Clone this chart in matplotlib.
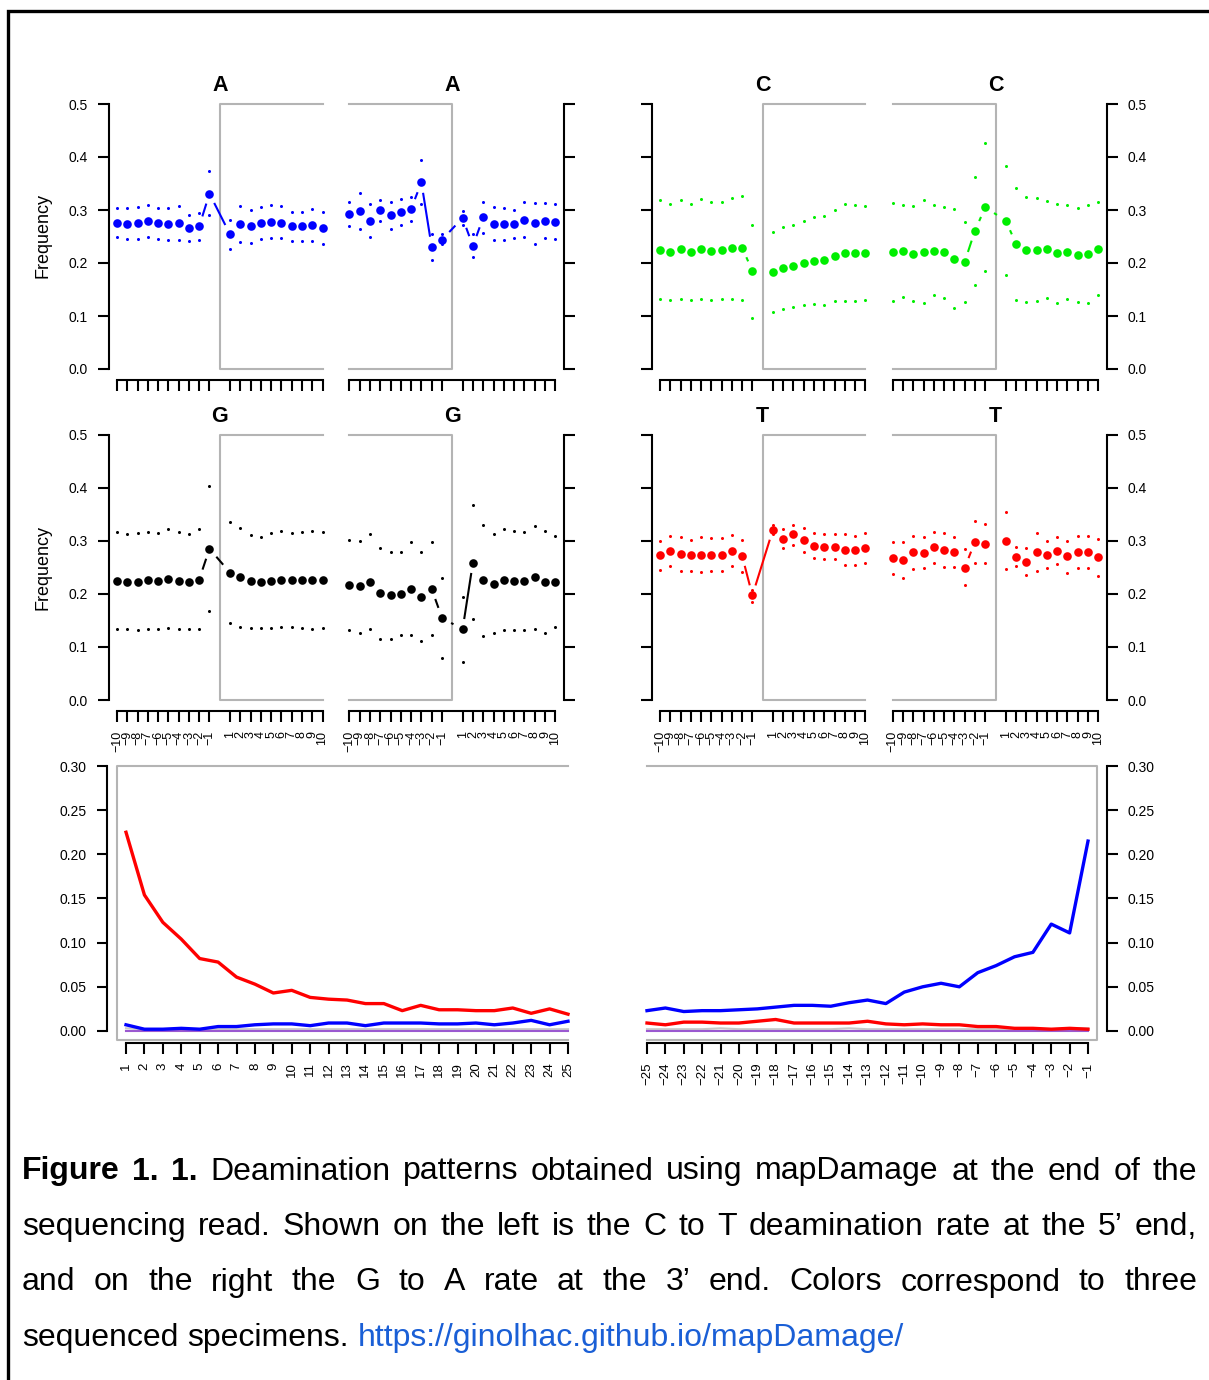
import numpy as np
import matplotlib
matplotlib.use('Agg')
import matplotlib.pyplot as plt
from matplotlib.lines import Line2D

W, H = 1209, 1380
plt.rcParams['font.family'] = ['Liberation Sans', 'DejaVu Sans']

# positions -10..-1, 1..10 (a gap is left between -1 and 1)
pos_labels = ['\u2212%d' % i for i in range(10, 0, -1)] + [str(i) for i in range(1, 11)]
pos_idx = list(range(10)) + list(range(11, 21))

# base composition, 5' side (left) and 3' side (right) of each base
A_left_mean = [0.276, 0.274, 0.275, 0.280, 0.275, 0.274, 0.276, 0.266, 0.269, 0.331,
               0.254, 0.273, 0.269, 0.275, 0.278, 0.276, 0.270, 0.270, 0.272, 0.266]
A_left_upper = [0.303, 0.303, 0.306, 0.309, 0.303, 0.303, 0.308, 0.291, 0.295, 0.373,
                0.281, 0.307, 0.300, 0.305, 0.310, 0.307, 0.297, 0.297, 0.302, 0.297]
A_left_lower = [0.249, 0.245, 0.245, 0.250, 0.245, 0.243, 0.243, 0.242, 0.243, 0.290,
                0.226, 0.239, 0.237, 0.246, 0.248, 0.248, 0.241, 0.242, 0.242, 0.236]
A_right_mean = [0.293, 0.298, 0.280, 0.300, 0.290, 0.296, 0.302, 0.352, 0.230, 0.244,
                0.285, 0.232, 0.286, 0.274, 0.273, 0.273, 0.281, 0.275, 0.280, 0.278]
A_right_upper = [0.316, 0.332, 0.311, 0.319, 0.315, 0.321, 0.324, 0.394, 0.254, 0.254,
                 0.298, 0.254, 0.316, 0.305, 0.303, 0.300, 0.315, 0.313, 0.314, 0.311]
A_right_lower = [0.270, 0.264, 0.249, 0.280, 0.264, 0.271, 0.279, 0.311, 0.205, 0.235,
                 0.272, 0.212, 0.256, 0.243, 0.243, 0.248, 0.249, 0.236, 0.247, 0.246]

C_left_mean = [0.225, 0.221, 0.226, 0.221, 0.226, 0.223, 0.224, 0.228, 0.229, 0.185,
               0.183, 0.190, 0.194, 0.200, 0.204, 0.205, 0.214, 0.219, 0.219, 0.219]
C_left_upper = [0.318, 0.311, 0.319, 0.312, 0.320, 0.315, 0.315, 0.323, 0.327, 0.271,
                0.259, 0.268, 0.271, 0.280, 0.286, 0.289, 0.300, 0.312, 0.309, 0.307]
C_left_lower = [0.133, 0.131, 0.133, 0.130, 0.133, 0.130, 0.133, 0.133, 0.131, 0.097,
                0.107, 0.113, 0.117, 0.121, 0.122, 0.120, 0.129, 0.128, 0.128, 0.130]
C_right_mean = [0.221, 0.223, 0.217, 0.221, 0.223, 0.220, 0.208, 0.202, 0.261, 0.305,
                0.280, 0.236, 0.225, 0.225, 0.226, 0.219, 0.221, 0.215, 0.217, 0.227]
C_right_upper = [0.313, 0.310, 0.308, 0.318, 0.309, 0.305, 0.302, 0.278, 0.363, 0.427,
                 0.383, 0.341, 0.325, 0.322, 0.317, 0.312, 0.310, 0.304, 0.310, 0.315]
C_right_lower = [0.128, 0.136, 0.128, 0.124, 0.139, 0.134, 0.116, 0.126, 0.159, 0.185,
                 0.177, 0.131, 0.127, 0.129, 0.134, 0.125, 0.132, 0.126, 0.125, 0.139]

G_left_mean = [0.224, 0.222, 0.222, 0.226, 0.224, 0.228, 0.225, 0.223, 0.227, 0.285,
               0.240, 0.231, 0.224, 0.222, 0.225, 0.227, 0.226, 0.226, 0.226, 0.226]
G_left_upper = [0.316, 0.312, 0.314, 0.317, 0.314, 0.322, 0.317, 0.313, 0.323, 0.403,
                0.336, 0.325, 0.311, 0.308, 0.314, 0.318, 0.315, 0.316, 0.318, 0.317]
G_left_lower = [0.133, 0.133, 0.131, 0.134, 0.134, 0.136, 0.133, 0.133, 0.133, 0.168,
                0.145, 0.137, 0.135, 0.135, 0.136, 0.137, 0.137, 0.135, 0.133, 0.136]
G_right_mean = [0.216, 0.214, 0.223, 0.201, 0.197, 0.200, 0.209, 0.195, 0.209, 0.155,
                0.133, 0.259, 0.226, 0.219, 0.226, 0.224, 0.224, 0.231, 0.223, 0.223]
G_right_upper = [0.302, 0.300, 0.313, 0.287, 0.278, 0.278, 0.297, 0.278, 0.297, 0.229,
                 0.195, 0.368, 0.330, 0.313, 0.322, 0.318, 0.317, 0.327, 0.318, 0.309]
G_right_lower = [0.131, 0.127, 0.133, 0.115, 0.115, 0.122, 0.123, 0.112, 0.122, 0.080,
                 0.072, 0.152, 0.121, 0.127, 0.131, 0.131, 0.132, 0.133, 0.127, 0.138]

T_left_mean = [0.273, 0.281, 0.275, 0.273, 0.274, 0.274, 0.273, 0.281, 0.272, 0.197,
               0.321, 0.304, 0.312, 0.301, 0.291, 0.289, 0.289, 0.283, 0.283, 0.287]
T_left_upper = [0.300, 0.310, 0.307, 0.302, 0.307, 0.305, 0.305, 0.311, 0.302, 0.207,
                0.329, 0.322, 0.330, 0.324, 0.315, 0.313, 0.313, 0.312, 0.310, 0.315]
T_left_lower = [0.245, 0.253, 0.244, 0.244, 0.242, 0.243, 0.243, 0.252, 0.242, 0.185,
                0.312, 0.287, 0.292, 0.278, 0.268, 0.266, 0.266, 0.255, 0.254, 0.258]
T_right_mean = [0.268, 0.263, 0.278, 0.277, 0.288, 0.283, 0.278, 0.249, 0.298, 0.294,
                0.300, 0.270, 0.261, 0.278, 0.274, 0.281, 0.271, 0.278, 0.278, 0.269]
T_right_upper = [0.298, 0.297, 0.310, 0.307, 0.317, 0.315, 0.307, 0.285, 0.338, 0.331,
                 0.354, 0.288, 0.287, 0.314, 0.299, 0.307, 0.300, 0.310, 0.309, 0.304]
T_right_lower = [0.238, 0.229, 0.246, 0.248, 0.259, 0.250, 0.250, 0.216, 0.259, 0.258,
                 0.246, 0.253, 0.236, 0.244, 0.249, 0.256, 0.240, 0.248, 0.248, 0.234]

# misincorporation frequencies along the read
pos5 = list(range(1, 26))
pos3 = list(range(-25, 0))
ct_5p = [0.225, 0.154, 0.123, 0.104, 0.082, 0.078, 0.061, 0.053, 0.043, 0.046, 0.038, 0.036, 0.035,
         0.031, 0.031, 0.023, 0.029, 0.024, 0.024, 0.023, 0.023, 0.026, 0.020, 0.025, 0.019]
ga_5p = [0.007, 0.002, 0.002, 0.003, 0.002, 0.005, 0.005, 0.007, 0.008, 0.008, 0.006, 0.009, 0.009,
         0.006, 0.009, 0.009, 0.009, 0.008, 0.008, 0.009, 0.007, 0.009, 0.012, 0.007, 0.011]
other_5p = [0.003, 0.002, 0.002, 0.002, 0.002, 0.002, 0.002, 0.002, 0.002, 0.002, 0.002, 0.002, 0.002,
            0.002, 0.002, 0.002, 0.002, 0.002, 0.002, 0.002, 0.002, 0.002, 0.002, 0.002, 0.002]
ga_3p = [0.023, 0.026, 0.022, 0.023, 0.023, 0.024, 0.025, 0.027, 0.029, 0.029, 0.028, 0.032, 0.035,
         0.031, 0.044, 0.050, 0.054, 0.050, 0.066, 0.074, 0.084, 0.089, 0.121, 0.111, 0.215]
ct_3p = [0.009, 0.007, 0.010, 0.010, 0.009, 0.009, 0.011, 0.013, 0.009, 0.009, 0.009, 0.009, 0.011,
         0.008, 0.007, 0.008, 0.007, 0.007, 0.005, 0.005, 0.003, 0.003, 0.002, 0.003, 0.002]
other_3p = [0.002, 0.002, 0.002, 0.002, 0.003, 0.002, 0.002, 0.002, 0.002, 0.002, 0.002, 0.003, 0.002,
            0.002, 0.002, 0.002, 0.002, 0.002, 0.002, 0.002, 0.002, 0.002, 0.002, 0.003, 0.003]
indel_level = 0.0005

caption = [
    "Figure 1. 1. Deamination patterns obtained using mapDamage at the end of the",
    "sequencing read. Shown on the left is the C to T deamination rate at the 5\u2019 end,",
    "and on the right the G to A rate at the 3\u2019 end. Colors correspond to three",
    "sequenced specimens.",
]
url = "https://ginolhac.github.io/mapDamage/"

GREY = '#b4b4b4'
PT = 0.72  # points per pixel at dpi 100

fig = plt.figure(figsize=(W / 100, H / 100), dpi=100)


def px_axes(x0, x1, ytop, ybot):
    return fig.add_axes([x0 / W, 1 - ybot / H, (x1 - x0) / W, (ybot - ytop) / H])


def b_lines(ax, x, y, color, gap=10.5, lw=1.5):
    # R type="b": segments between points with a gap around each point
    pts = ax.transData.transform(np.column_stack([x, y]))
    inv = ax.transData.inverted()
    for p0, p1 in zip(pts[:-1], pts[1:]):
        d = p1 - p0
        L = np.hypot(*d)
        if L > 2 * gap + 1:
            u = d / L
            a = inv.transform(p0 + u * gap)
            b = inv.transform(p1 - u * gap)
            ax.plot([a[0], b[0]], [a[1], b[1]], color=color, lw=lw,
                    solid_capstyle='butt', clip_on=False)


def comp_panel(ax, side, ylabels, xlabels, title, box, mean, upper, lower, color):
    ax.set_xlim(0, 20)
    ax.set_ylim(0, 0.5)
    ax.patch.set_visible(False)
    for s in ax.spines.values():
        s.set_visible(False)
    sp = ax.spines['bottom']
    sp.set_visible(True)
    sp.set_position(('outward', 10.5 * PT))
    sp.set_bounds(0, 20)
    sp.set_linewidth(1.5)
    ax.set_xticks(pos_idx)
    ax.tick_params(axis='x', length=11.5 * PT, width=1.5, direction='out',
                   pad=9 * PT, labelsize=9, labelbottom=xlabels)
    if xlabels:
        ax.set_xticklabels(pos_labels, rotation=90)
    ysp = ax.spines[side]
    ysp.set_visible(True)
    ysp.set_position(('outward', 8.5 * PT))
    ysp.set_bounds(0, 0.5)
    ysp.set_linewidth(1.5)
    ax.set_yticks([0, 0.1, 0.2, 0.3, 0.4, 0.5])
    ax.set_yticklabels(['0.0', '0.1', '0.2', '0.3', '0.4', '0.5'])
    ax.tick_params(axis='y', length=11 * PT, width=1.5, pad=10 * PT, labelsize=10,
                   left=(side == 'left'), right=(side == 'right'),
                   labelleft=(side == 'left' and ylabels),
                   labelright=(side == 'right' and ylabels))
    # grey box marking the read
    if box == 'right':
        ax.plot([20, 10, 10, 20], [0.5, 0.5, 0, 0], color=GREY, lw=1.5, clip_on=False)
    else:
        ax.plot([0, 10, 10, 0], [0.5, 0.5, 0, 0], color=GREY, lw=1.5, clip_on=False)
    ax.set_title(title, fontsize=15.5, fontweight='bold', pad=9.5)
    b_lines(ax, pos_idx, mean, color)
    ax.plot(pos_idx, upper, 'o', color=color, ms=2.2, mew=0, clip_on=False)
    ax.plot(pos_idx, lower, 'o', color=color, ms=2.2, mew=0, clip_on=False)
    ax.plot(pos_idx, mean, 'o', color=color, ms=6.2, mew=0, clip_on=False)


cols_x = [(117, 322.5), (349.3, 555.3), (660, 865.3), (892.7, 1098.3)]
rows_y = [(104, 369), (434.7, 700)]

panels = [
    # row, col, side, title, box, mean, upper, lower, color
    (0, 0, 'left', 'A', 'right', A_left_mean, A_left_upper, A_left_lower, '#0000ff'),
    (0, 1, 'right', 'A', 'left', A_right_mean, A_right_upper, A_right_lower, '#0000ff'),
    (0, 2, 'left', 'C', 'right', C_left_mean, C_left_upper, C_left_lower, '#00ee00'),
    (0, 3, 'right', 'C', 'left', C_right_mean, C_right_upper, C_right_lower, '#00ee00'),
    (1, 0, 'left', 'G', 'right', G_left_mean, G_left_upper, G_left_lower, '#000000'),
    (1, 1, 'right', 'G', 'left', G_right_mean, G_right_upper, G_right_lower, '#000000'),
    (1, 2, 'left', 'T', 'right', T_left_mean, T_left_upper, T_left_lower, '#ff0000'),
    (1, 3, 'right', 'T', 'left', T_right_mean, T_right_upper, T_right_lower, '#ff0000'),
]
for r, c, side, title, box, m, u, l, col in panels:
    x0, x1 = cols_x[c]
    yt, yb = rows_y[r]
    ax = px_axes(x0, x1, yt, yb)
    comp_panel(ax, side, ylabels=(c in (0, 3)), xlabels=(r == 1), title=title,
               box=box, mean=m, upper=u, lower=l, color=col)

for yc in (236, 567):
    fig.text(43 / W, 1 - yc / H, 'Frequency', rotation=90, ha='center', va='center', fontsize=13)


def misinc_panel(ax, side, xs, ticks, series):
    ax.set_ylim(-0.01, 0.30)
    ax.patch.set_visible(False)
    for s in ax.spines.values():
        s.set_visible(False)
    sp = ax.spines['bottom']
    sp.set_visible(True)
    sp.set_position(('outward', 3 * PT))
    sp.set_bounds(ticks[0], ticks[-1])
    sp.set_linewidth(1.5)
    ax.set_xticks(ticks)
    ax.set_xticklabels([str(t).replace('-', '\u2212') for t in ticks], rotation=90)
    ax.tick_params(axis='x', length=10.5 * PT, width=1.5, pad=9 * PT, labelsize=9.5)
    ysp = ax.spines[side]
    ysp.set_visible(True)
    ysp.set_position(('outward', 10 * PT))
    ysp.set_bounds(0, 0.30)
    ysp.set_linewidth(1.5)
    yt = [0, 0.05, 0.10, 0.15, 0.20, 0.25, 0.30]
    ax.set_yticks(yt)
    ax.set_yticklabels(['%.2f' % v for v in yt])
    ax.tick_params(axis='y', length=10.5 * PT, width=1.5, pad=10 * PT, labelsize=10,
                   left=(side == 'left'), right=(side == 'right'),
                   labelleft=(side == 'left'), labelright=(side == 'right'))
    x0, x1 = ax.get_xlim()
    yb, ytop = ax.get_ylim()
    if side == 'left':
        ax.plot([x1, x0, x0, x1], [ytop, ytop, yb, yb], color=GREY, lw=1.5, clip_on=False)
    else:
        ax.plot([x0, x1, x1, x0], [ytop, ytop, yb, yb], color=GREY, lw=1.5, clip_on=False)
    for ys, col, lw in series:
        ax.plot(xs, ys, color=col, lw=lw, solid_joinstyle='round', clip_on=False)


ax5 = px_axes(116.8, 568, 766, 1039.8)
ax5.set_xlim(0.5, 25)
misinc_panel(ax5, 'left', pos5, pos5,
             [(other_5p, '#c8c8c8', 1.5), ([indel_level] * 25, '#9b59d0', 1.5),
              (ga_5p, '#0000ff', 2.4), (ct_5p, '#ff0000', 2.4)])

ax6 = px_axes(647, 1097.2, 766, 1039.8)
ax6.set_xlim(-25, -0.5)
misinc_panel(ax6, 'right', pos3, pos3,
             [(other_3p, '#c8c8c8', 1.5), ([indel_level] * 25, '#9b59d0', 1.5),
              (ct_3p, '#ff0000', 2.4), (ga_3p, '#0000ff', 2.4)])

# page frame (top and left edges)
fig.add_artist(Line2D([8 / W, 8 / W, 1], [0, 1 - 10.5 / H, 1 - 10.5 / H],
                      color='black', lw=2.4, solid_joinstyle='miter'))

# justified caption
fig.canvas.draw()
rend = fig.canvas.get_renderer()
FS = 23


def text_w(s, weight='normal'):
    t = fig.text(0, 0, s, fontsize=FS, fontweight=weight)
    w = t.get_window_extent(renderer=rend).width
    t.remove()
    return w


space_w = text_w('x x') - text_w('xx')
left_px, right_px = 22, 1197
baselines = [1179.5, 1235, 1290.5, 1346]

for i, line in enumerate(caption):
    words = line.split(' ')
    items = []
    for j, wd in enumerate(words):
        bold = (i == 0 and j < 3)
        items.append((wd, 'bold' if bold else 'normal', 'black'))
    last = (i == len(caption) - 1)
    if last:
        items.append((url, 'normal', '#1a5fd6'))
    widths = [text_w(w, wt) for w, wt, c in items]
    if last:
        gap = space_w
    else:
        gap = (right_px - left_px - sum(widths)) / (len(items) - 1)
    x = left_px
    for (w, wt, c), wd in zip(items, widths):
        fig.text(x / W, 1 - baselines[i] / H, w, fontsize=FS, fontweight=wt, color=c,
                 ha='left', va='baseline')
        x += wd + gap

fig.savefig('out.png', dpi=100, facecolor='white')
